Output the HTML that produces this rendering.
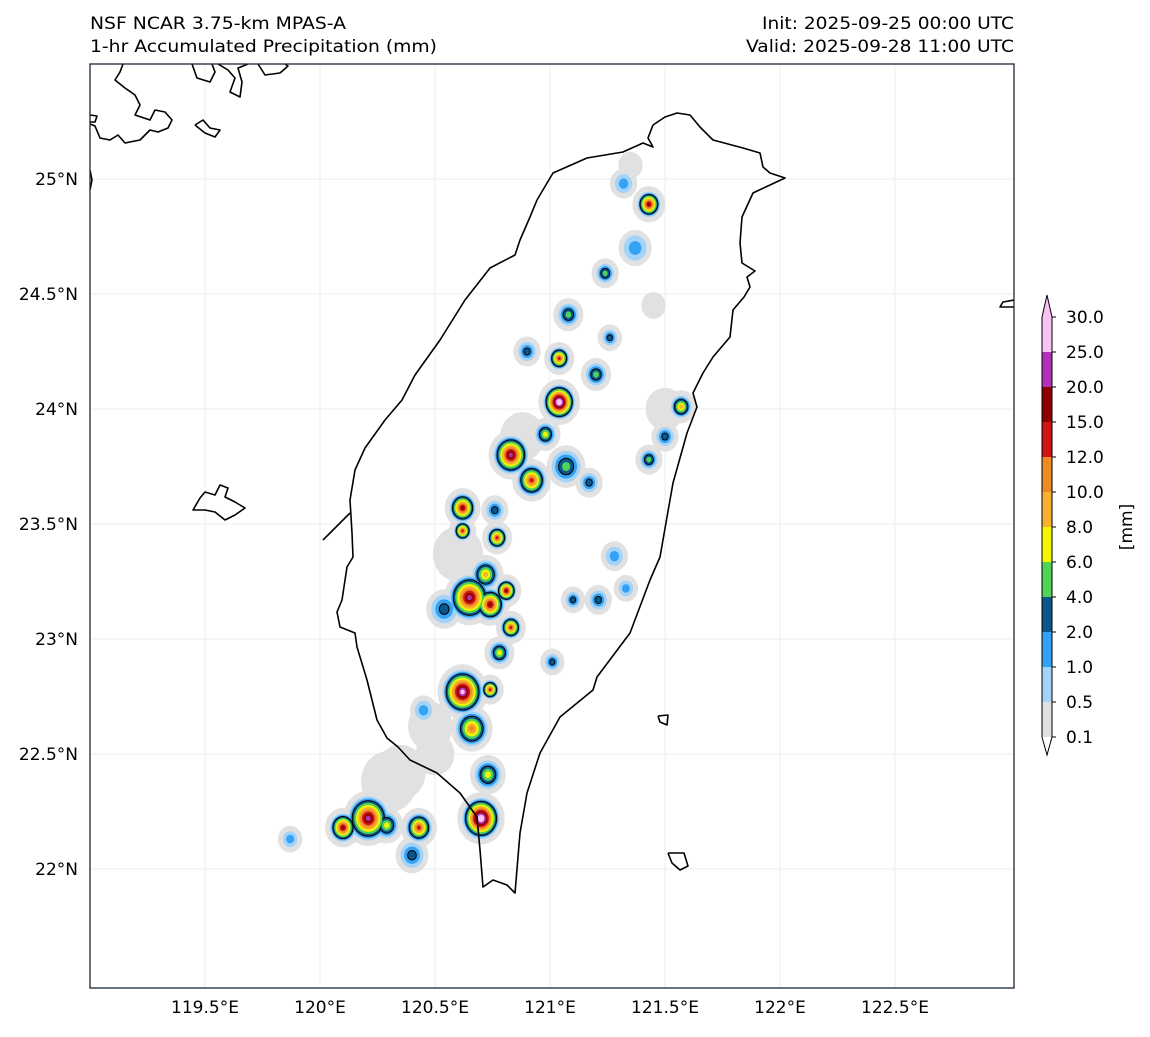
<!DOCTYPE html>
<html><head><meta charset="utf-8"><style>
body{margin:0;background:#fff;width:1150px;height:1032px;overflow:hidden;font-family:"Liberation Sans","DejaVu Sans",sans-serif;}
svg text{font-family:"DejaVu Sans","Liberation Sans",sans-serif;}
</style></head><body>
<svg id="chart" width="1150" height="1032" xmlns="http://www.w3.org/2000/svg">
<text x="90" y="29" font-size="17" textLength="256" lengthAdjust="spacingAndGlyphs">NSF NCAR 3.75-km MPAS-A</text>
<text x="90" y="52" font-size="17" textLength="347" lengthAdjust="spacingAndGlyphs">1-hr Accumulated Precipitation (mm)</text>
<text x="762" y="29" font-size="17" textLength="252" lengthAdjust="spacingAndGlyphs">Init: 2025-09-25 00:00 UTC</text>
<text x="746" y="52" font-size="17" textLength="268" lengthAdjust="spacingAndGlyphs">Valid: 2025-09-28 11:00 UTC</text>
<defs><clipPath id="mapclip"><rect x="90" y="64" width="924" height="924"/></clipPath></defs>
<g id="grid"></g>
<g id="precip" clip-path="url(#mapclip)"></g>
<g id="coast" clip-path="url(#mapclip)" fill="none" stroke="#000" stroke-width="1.6" stroke-linejoin="round"></g>
<rect x="90" y="64" width="924" height="924" fill="none" stroke="#1a2a3a" stroke-width="1.3"/>
<g id="axes"></g>
<g id="cbar"></g>
<text transform="translate(1132,527) rotate(-90)" font-size="17" text-anchor="middle">[mm]</text>
</svg>
<script>
const lonTicks=[119.5,120,120.5,121,121.5,122,122.5];
const latTicks=[22,22.5,23,23.5,24,24.5,25];
const levels=[0.1,0.5,1,2,4,6,8,10,12,15,20,25,30];
const colors=["#e1e1e1","#a3d3f9","#33a2f5","#0b568a","#50d356","#f5f500","#f7b12f","#ee8a26","#d01414","#8d0000","#b331b8","#f9c2f6"];
// precipitation cells (approximate)
const cellLon=[121.43,121.32,121.37,121.24,121.08,121.26,120.90,121.04,121.20,121.04,121.57,120.98,120.83,120.92,121.07,121.17,121.50,121.43,120.62,120.76,120.62,120.77,120.72,120.65,120.74,120.81,120.54,120.83,120.78,121.01,121.10,121.21,120.62,120.74,120.66,120.73,120.70,120.21,120.10,120.43,120.29,120.40,119.87,121.28,121.33,120.45,120.35,120.48,120.60,120.88,121.35,121.50,121.45,120.30,120.50];
const cellLat=[24.89,24.98,24.70,24.59,24.41,24.31,24.25,24.22,24.15,24.03,24.01,23.89,23.80,23.69,23.75,23.68,23.88,23.78,23.57,23.56,23.47,23.44,23.28,23.18,23.15,23.21,23.13,23.05,22.94,22.90,23.17,23.17,22.77,22.78,22.61,22.41,22.22,22.22,22.18,22.18,22.19,22.06,22.13,23.36,23.22,22.69,22.42,22.62,23.37,23.88,25.06,24.00,24.45,22.38,22.50];
const cellMax=[15,1,1.5,5,5,3,3,12,5,30,8,7,20,12,5,3,3,5,15,3,12,12,8,22,15,15,3,12,7,3,3,3,28,12,10,7,32,22,15,12,7,3,1.5,1.5,1,1,0.3,0.3,0.3,0.3,0.3,0.3,0.3,0.3,0.3];
const cellSize=[0.04,0.03,0.04,0.03,0.035,0.025,0.03,0.035,0.035,0.055,0.035,0.035,0.06,0.05,0.05,0.03,0.03,0.03,0.045,0.03,0.03,0.035,0.045,0.07,0.05,0.035,0.045,0.035,0.035,0.025,0.025,0.03,0.07,0.03,0.055,0.045,0.065,0.07,0.045,0.045,0.04,0.04,0.025,0.03,0.025,0.03,0.07,0.06,0.07,0.06,0.025,0.05,0.025,0.08,0.05];
// coastline geometry in screen pixels (base map, not data)
const taiwanPx=[[653,125],[665,117],[677,113],[690,115],[700,127],[713,140],[743,148],[760,153],[763,167],[770,173],[785,178],[770,185],[753,193],[742,217],[740,243],[742,263],[755,271],[747,277],[750,287],[744,297],[733,310],[730,337],[713,357],[703,373],[693,393],[697,407],[687,433],[673,483],[667,517],[660,557],[650,580],[630,633],[597,677],[593,690],[560,717],[540,753],[527,793],[520,833],[515,893],[507,885],[493,880],[483,887],[480,850],[477,817],[460,793],[437,773],[410,760],[398,747],[387,738],[377,720],[367,680],[357,647],[355,633],[340,627],[337,612],[342,600],[347,567],[353,557],[352,533],[350,500],[355,470],[365,448],[385,420],[402,400],[415,375],[440,340],[465,300],[490,268],[515,255],[520,240],[530,217],[537,200],[553,173],[587,158],[623,152],[643,143],[653,147],[648,138],[653,125]];
const islandPx=[
[[323,540],[350,513]],
[[200,498],[205,492],[215,495],[220,485],[228,488],[225,497],[235,502],[245,508],[235,515],[225,520],[215,512],[205,510],[193,510],[200,498]],
[[658,716],[668,715],[667,725],[660,722],[658,716]],
[[668,853],[684,853],[688,866],[680,870],[672,863],[668,853]],
[[1014,300],[1003,302],[1000,307],[1014,307]],
[[123,64],[120,72],[115,80],[125,88],[135,95],[140,105],[135,115],[150,120],[155,110],[165,112],[172,120],[168,128],[158,132],[150,130],[140,140],[125,143],[118,135],[110,140],[100,138],[95,126],[90,124]],
[[90,115],[97,116],[95,122],[90,122]],
[[195,125],[203,120],[210,128],[220,130],[215,137],[205,133],[195,125]],
[[192,64],[197,78],[210,82],[215,72],[212,64]],
[[218,64],[228,70],[235,78],[230,92],[240,97],[242,82],[238,68],[248,64]],
[[258,64],[265,75],[280,73],[288,66],[285,64]],
[[90,170],[92,180],[90,190]]];
const lon0=119.0,lat0=25.5,ppd=230,X0=90,Y0=64;
function xs(lon){return X0+(lon-lon0)*ppd;}
function ys(lat){return Y0+(lat0-lat)*ppd;}
const NS="http://www.w3.org/2000/svg";
function mk(tag,attrs,parent){const e=document.createElementNS(NS,tag);for(const k in attrs)e.setAttribute(k,attrs[k]);parent.appendChild(e);return e;}
const grid=document.getElementById('grid'),axes=document.getElementById('axes');
lonTicks.forEach(v=>{
 const l=mk('line',{x1:xs(v),x2:xs(v),y1:64,y2:988,stroke:'#ececec','stroke-width':1},grid);
 
 
 const t=mk('text',{x:xs(v),y:1013,'font-size':17,'text-anchor':'middle'},axes);
 t.textContent=v+'°E';
 
 
});
latTicks.forEach(v=>{
 const l=mk('line',{x1:90,x2:1014,y1:ys(v),y2:ys(v),stroke:'#ececec','stroke-width':1},grid);
 
 
 const t=mk('text',{x:78,y:ys(v)+6,'font-size':17,'text-anchor':'end'},axes);
 t.textContent=v+'°N';
 
 
});
const pg=document.getElementById('precip');
function bandIdx(v){let i=0;for(let k=0;k<levels.length;k++)if(v>=levels[k])i=k;return i;}
for(let k=0;k<colors.length;k++){
 for(let i=0;i<cellLon.length;i++){
  const mi=bandIdx(cellMax[i]);
  if(mi<k)continue;
  const R=cellSize[i]*ppd*1.25;
  const r=k===0?R+5:R*(1-(k-1)/(mi+0.2));
  const c=mk('ellipse',{cx:xs(cellLon[i]),cy:ys(cellLat[i]),rx:r,ry:r*1.1,fill:colors[k]},pg);
  if(k===3){c.setAttribute('stroke','#000');c.setAttribute('stroke-width','1');}
  
  
 }
}
const cg=document.getElementById('coast');
function poly(pts,name){const p=mk('polyline',{points:pts.map(p=>p[0]+','+p[1]).join(' ')},cg);}
poly(taiwanPx,'taiwan-coastline');
islandPx.forEach(s=>poly(s,'island-coastline'));
const cb=document.getElementById('cbar');
const cbx=1042,cbw=10,cbTop=317,step=35;
for(let k=0;k<colors.length;k++){
 const y=cbTop+(levels.length-2-k)*step;
 const r=mk('rect',{x:cbx,y:y,width:cbw,height:step,fill:colors[k]},cb);
 
 
}
const cbBot=cbTop+(levels.length-1)*step;
mk('polygon',{points:`${cbx},${cbTop} ${cbx+cbw},${cbTop} ${cbx+cbw/2},${cbTop-22}`,fill:colors[colors.length-1]},cb);
mk('polygon',{points:`${cbx},${cbBot} ${cbx+cbw},${cbBot} ${cbx+cbw/2},${cbBot+18}`,fill:'#fff'},cb);
mk('path',{d:`M${cbx},${cbTop} L${cbx+cbw/2},${cbTop-22} L${cbx+cbw},${cbTop} L${cbx+cbw},${cbBot} L${cbx+cbw/2},${cbBot+18} L${cbx},${cbBot} Z`,fill:'none',stroke:'#000','stroke-width':1},cb);
levels.forEach((v,k)=>{
 const y=cbBot-k*step;
 mk('line',{x1:cbx+cbw,x2:cbx+cbw+4,y1:y,y2:y,stroke:'#000'},cb);
 const t=mk('text',{x:cbx+cbw+14,y:y+6,'font-size':17},cb);
 t.textContent=v.toFixed(1);
 
 
});
</script>
</body></html>
